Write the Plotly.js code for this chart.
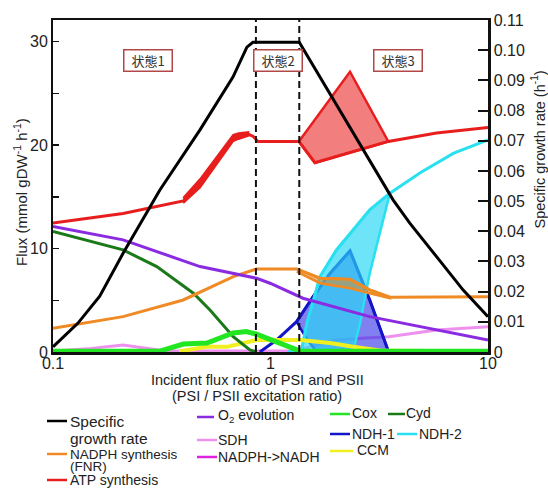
<!DOCTYPE html>
<html><head><meta charset="utf-8">
<script src="https://cdn.plot.ly/plotly-3.0.1.min.js"></script>
<style>html,body{margin:0;padding:0;background:#fff}#chart{width:548px;height:488px}</style>
</head><body><div id="chart"></div>
<script>
// ---------------- data ----------------
// Specific growth rate (right axis, h^-1)
const growthX = [0.1, 0.13, 0.164, 0.21, 0.31, 0.474, 0.672, 0.779, 0.83, 1.356, 3.66, 4.37, 5.80, 7.69, 10];
const growthY = [0.0017, 0.0095, 0.0185, 0.0327, 0.0537, 0.0736, 0.0911, 0.101, 0.1026, 0.1026, 0.0504, 0.0427, 0.0316, 0.0205, 0.0117];

// ATP synthesis (left axis)
const atpX = [0.1, 0.21, 0.397, 0.474, 0.674, 0.713, 0.79, 0.833, 0.875, 1.351, 1.60, 3.48, 5.80, 10];
const atpY = [12.46, 13.4, 14.6, 16.3, 20.7, 20.84, 21.07, 20.84, 20.36, 20.36, 18.3, 20.36, 21.17, 21.7];
const atpBandX = [0.397, 0.474, 0.674, 0.713, 0.79];
const atpBandHi = [14.9, 16.7, 21.0, 21.15, 21.25];
const atpBandLo = [14.4, 15.9, 20.4, 20.6, 20.9];
const atpMaxX = [1.351, 2.32, 3.48];
const atpMaxY = [20.36, 27.1, 20.36];
const atpMinX = [1.351, 1.60, 3.48];
const atpMinY = [20.36, 18.3, 20.36];

// NADPH synthesis (FNR)
const nadphX = [0.1, 0.21, 0.397, 0.675, 0.864, 1.32, 1.69, 2.32, 2.86, 3.54, 10];
const nadphY = [2.29, 3.42, 5.03, 7.29, 8.03, 8.03, 7.13, 7.04, 6.0, 5.3, 5.35];
const nadphBandX = [1.32, 1.69, 2.32, 2.86, 3.54];
const nadphBandLo = [7.77, 6.65, 6.17, 5.68, 5.2];

// O2 evolution
const o2X = [0.1, 0.21, 0.474, 0.863, 0.995, 1.41, 2.86, 5.80, 10];
const o2Y = [12.13, 10.84, 8.26, 7.13, 6.65, 5.2, 3.42, 2.13, 1.16];

// SDH
const sdhX = [0.1, 0.15, 0.21, 0.28, 0.33, 1.3, 1.6, 2.0, 2.5, 3.5, 5.8, 10];
const sdhY = [0.1, 0.35, 0.68, 0.35, 0.1, 0.1, 0.6, 1.16, 1.3, 1.48, 2.13, 2.45];

// NADPH->NADH
const nadhX = [0.1, 10];
const nadhY = [0.05, 0.05];

// Cox
const coxX = [0.1, 0.31, 0.397, 0.51, 0.674, 0.774, 0.857, 1.37, 10];
const coxY = [0.08, 0.08, 0.77, 0.87, 1.84, 1.98, 1.74, 0.08, 0.08];

// Cyd
const cydX = [0.1, 0.21, 0.30, 0.442, 0.527, 0.674, 0.804, 0.86];
const cydY = [11.65, 9.87, 8.26, 5.68, 4.07, 1.48, 0.2, 0];

// NDH-1
const ndh1X = [0.893, 1.066, 1.318, 1.57, 1.88, 2.32, 2.86, 3.48];
const ndh1Y = [0, 1.16, 2.93, 5.35, 7.62, 9.78, 5.03, 0.1];
const ndh1MinX = [1.318, 1.416, 1.52, 1.62, 3.48];
const ndh1MinY = [2.93, 1.8, 0.84, 0.1, 0.1];

// NDH-2
const ndh2X = [1.2, 1.39, 1.47, 1.69, 2.01, 2.40, 2.86, 3.54, 4.86, 6.92, 10];
const ndh2Y = [0, 0.2, 2.78, 7.29, 9.87, 11.8, 13.75, 15.36, 17.3, 19.2, 20.5];
const ndh2MinX = [3.54, 2.86, 2.58, 2.44, 2.40, 1.39];
const ndh2MinY = [15.36, 7.62, 2.78, 0.5, 0.1, 0.1];

// CCM
const ccmX = [0.38, 0.51, 0.63, 0.863, 1.37, 1.88, 2.40, 3.18, 10];
const ccmY = [0.05, 0.5, 0.5, 1.16, 1.16, 0.87, 0.5, 0.15, 0.05];

// state boundaries (excitation ratio)
const stateBounds = [0.857, 1.356];
const stateLabels = ['状態1', '状態2', '状態3'];

// tick labels
const fluxTicks = [0, 10, 20, 30];
const rateTicks = [0, 0.01, 0.02, 0.03, 0.04, 0.05, 0.06, 0.07, 0.08, 0.09, 0.10, 0.11];
const rateTickText = ['0', '0.01', '0.02', '0.03', '0.04', '0.05', '0.06', '0.07', '0.08', '0.09', '0.10', '0.11'];
const xTicks = [0.1, 1, 10];
const xTickText = ['0.1', '1', '10'];

// legend (each entry may wrap onto a second line)
const legendNames = [['Specific', 'growth rate'], ['NADPH synthesis', '(FNR)'], ['ATP synthesis'], ['O<sub>2</sub> evolution'], ['SDH'], ['NADPH->NADH'], ['Cox'], ['Cyd'], ['NDH-1'], ['NDH-2'], ['CCM']];
const colors = {
  growth: '#000000', nadph: '#f08a24', atp: '#e81e1e', o2: '#8a2be2', sdh: '#ee90ee',
  nadh: '#e020e0', cox: '#22e622', cyd: '#1a7a1a', ndh1: '#1414c8', ndh2: '#28e0f0', ccm: '#f0f020'
};
const legendKeys = ['growth', 'nadph', 'atp', 'o2', 'sdh', 'nadh', 'cox', 'cyd', 'ndh1', 'ndh2', 'ccm'];

// ---------------- layout geometry helpers ----------------
const L = 53, R = 488, T = 20, B = 352;
const px = v => (v - L) / (R - L);
const py = v => (B - v) / (B - T);

function line(x, y, color, width, extra) {
  return Object.assign({x: x, y: y, mode: 'lines', type: 'scatter', hoverinfo: 'skip',
    line: {color: color, width: width}}, extra || {});
}
function poly(xa, ya, xb, yb, fill, color, width) {
  return {x: xa.concat(xb.slice().reverse()), y: ya.concat(yb.slice().reverse()), type: 'scatter',
    mode: 'lines', fill: 'toself', fillcolor: fill, line: {color: color, width: width}, hoverinfo: 'skip'};
}

const traces = [
  line(nadhX, nadhY, colors.nadh, 2),
  line(sdhX, sdhY, colors.sdh, 3),
  poly(ndh1X.slice(2), ndh1Y.slice(2), ndh1MinX, ndh1MinY, 'rgba(50,50,230,0.62)', colors.ndh1, 2.5),
  line(ndh1X, ndh1Y, colors.ndh1, 3),
  {x: ndh2X.slice(1, 8).concat(ndh2MinX), y: ndh2Y.slice(1, 8).concat(ndh2MinY), type: 'scatter', mode: 'lines',
    fill: 'toself', fillcolor: 'rgba(40,215,245,0.68)', line: {color: colors.ndh2, width: 2.5}, hoverinfo: 'skip'},
  line(ndh2X, ndh2Y, colors.ndh2, 3),
  line(ccmX, ccmY, colors.ccm, 4),
  line(cydX, cydY, colors.cyd, 3),
  line(coxX, coxY, colors.cox, 5),
  poly(nadphBandX, nadphY.slice(5, 10), nadphBandX, nadphBandLo, 'rgba(220,140,40,0.55)', colors.nadph, 2.5),
  line(nadphX, nadphY, colors.nadph, 3),
  line(o2X, o2Y, colors.o2, 3),
  poly(atpBandX, atpBandHi, atpBandX, atpBandLo, colors.atp, colors.atp, 2),
  poly(atpMaxX, atpMaxY, atpMinX, atpMinY, 'rgba(235,40,40,0.6)', colors.atp, 2.5),
  line(atpX, atpY, colors.atp, 3),
];
stateBounds.forEach(b => traces.push(line([b, b], [0, 32.1], '#111', 2, {line: {color: '#111', width: 2, dash: '7px,4px'}})));
traces.push(line(growthX, growthY, colors.growth, 3, {yaxis: 'y2'}));

// ---------------- annotations & legend ----------------
const ann = [];
const shapes = [];
// state boxes
const boxCenters = [[148.3, 61], [277.5, 61], [397.5, 61]];
stateLabels.forEach((t, i) => ann.push({
  text: t, xref: 'paper', yref: 'paper', x: px(boxCenters[i][0]), y: py(boxCenters[i][1]),
  xanchor: 'center', yanchor: 'middle', showarrow: false, width: 45, height: 18,
  bgcolor: '#ffffff', bordercolor: '#b04848', borderwidth: 1.5, borderpad: 1,
  font: {family: 'Noto Sans CJK JP, sans-serif', size: 13, color: '#333'}
}));
// axis titles
ann.push({text: 'Incident flux ratio of PSI and PSII', xref: 'paper', yref: 'paper', x: px(257), y: py(380),
  xanchor: 'center', yanchor: 'middle', showarrow: false, font: {size: 14.5, color: '#222'}});
ann.push({text: '(PSI / PSII excitation ratio)', xref: 'paper', yref: 'paper', x: px(257), y: py(396),
  xanchor: 'center', yanchor: 'middle', showarrow: false, font: {size: 14.5, color: '#222'}});
ann.push({text: 'Flux (mmol gDW<sup>-1</sup> h<sup>-1</sup>)', xref: 'paper', yref: 'paper', x: px(20), y: py(192),
  xanchor: 'center', yanchor: 'middle', textangle: -90, showarrow: false, font: {size: 15, color: '#222'}});
ann.push({text: 'Specific growth rate (h<sup>-1</sup>)', xref: 'paper', yref: 'paper', x: px(538.5), y: py(150),
  xanchor: 'center', yanchor: 'middle', textangle: -90, showarrow: false, font: {size: 14.5, color: '#222'}});

// legend entries: [lineX0, lineX1, lineY, textX, firstLineY, lineGap, fontSize]
const legendPos = [
  [47, 67, 421, 69, 421, 17, 15.5],
  [47, 67, 454, 69, 454, 13, 13.5],
  [47, 67, 480, 69, 480, 0, 14],
  [197, 214, 417, 217, 416, 0, 14],
  [197, 217, 440, 217, 440, 0, 14],
  [197, 217, 457, 217, 457, 0, 14],
  [330, 350, 414, 351, 413, 0, 14],
  [388, 405, 414, 405, 413, 0, 14],
  [330, 350, 434, 351, 434, 0, 14],
  [397, 417, 434, 418, 434, 0, 14],
  [330, 353, 451, 356, 450, 0, 14]
];
legendKeys.forEach((k, i) => {
  const p = legendPos[i];
  shapes.push({type: 'line', xref: 'paper', yref: 'paper', x0: px(p[0]), x1: px(p[1]), y0: py(p[2]), y1: py(p[2]),
    line: {color: colors[k], width: 2.5}});
  legendNames[i].forEach((t, j) => ann.push({text: t, xref: 'paper', yref: 'paper', x: px(p[3]),
    y: py(p[4] + j * p[5]), xanchor: 'left', yanchor: 'middle', align: 'left', showarrow: false,
    borderpad: 0, font: {size: p[6], color: '#222'}}));
});

const layout = {
  width: 548, height: 488,
  margin: {l: L, r: 548 - R, t: T, b: 488 - B, pad: 0},
  paper_bgcolor: '#fff', plot_bgcolor: '#fff', showlegend: false,
  font: {family: 'Liberation Sans, Arial, sans-serif', color: '#222', size: 14},
  xaxis: {type: 'log', range: [-1, 1], showline: true, linecolor: '#111', linewidth: 2.5, mirror: true,
    ticks: '', tickvals: xTicks, ticktext: xTickText, tickfont: {size: 16}, ticklabelstandoff: -5,
    showgrid: false, zeroline: false},
  yaxis: {range: [0, 32.1], showline: true, linecolor: '#111', linewidth: 2, ticks: 'inside', ticklen: 6,
    tickwidth: 1.5, tickcolor: '#111', tickvals: fluxTicks, ticktext: fluxTicks.map(String),
    minor: {dtick: 5, ticks: 'inside', ticklen: 6, tickwidth: 1.5, tickcolor: '#111'},
    tickfont: {size: 16}, showgrid: false, zeroline: false},
  yaxis2: {overlaying: 'y', side: 'right', range: [0, 0.11], showline: true, linecolor: '#111', linewidth: 2.5,
    ticks: 'inside', ticklen: 10, tickwidth: 2, tickcolor: '#111', tickvals: rateTicks, ticktext: rateTickText,
    tickfont: {size: 16}, showgrid: false, zeroline: false},
  annotations: ann, shapes: shapes
};
Plotly.newPlot('chart', traces, layout, {staticPlot: true, displayModeBar: false});
</script></body></html>
